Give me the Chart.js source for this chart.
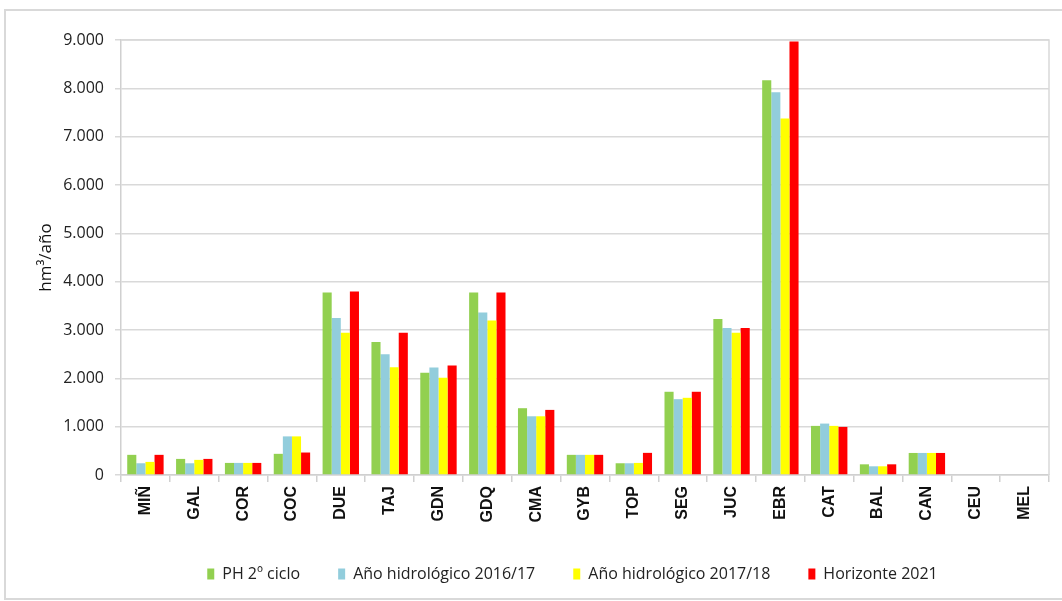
<!DOCTYPE html>
<html>
<head>
<meta charset="utf-8">
<script src="https://cdn.jsdelivr.net/npm/chart.js@4"></script>
<style>
    body{ margin: 0; background: #fff; }
    #wrap{ position: relative; width: 1062px; height: 601px; }
    #frame{ position: absolute; left: 4px; top: 9px; width: 1070px; height: 587px; border: 2px solid #d9d9d9; pointer-events: none; }
</style>
</head>
<body>
<div id="wrap">
    <canvas id="demand_graph" width="1062" height="601"></canvas>
    <div id="frame"></div>
</div>
<script>
const categories = ["MIÑ", "GAL", "COR", "COC", "DUE", "TAJ", "GDN", "GDQ", "CMA", "GYB", "TOP", "SEG", "JUC", "EBR", "CAT", "BAL", "CAN", "CEU", "MEL"]

const ph2Ciclo = [417, 333, 250, 438, 3778, 2750, 2118, 3778, 1382, 417, 243, 1722, 3229, 8169, 1016, 221, 456, 0, 0]
const anio2016 = [243, 243, 250, 799, 3250, 2500, 2222, 3361, 1215, 417, 243, 1569, 3042, 7920, 1064, 180, 456, 0, 0]
const anio2017 = [271, 313, 250, 799, 2944, 2229, 2014, 3194, 1215, 417, 250, 1597, 2944, 7374, 1016, 180, 456, 0, 0]
const horizonte2021 = [417, 333, 250, 465, 3799, 2944, 2264, 3778, 1347, 417, 458, 1722, 3042, 8970, 995, 221, 456, 0, 0]

const seriesNames = ["PH 2º ciclo", "Año hidrológico 2016/17", "Año hidrológico 2017/18", "Horizonte 2021"]
const seriesColors = ["#92D050", "#92CDDC", "#FFFF00", "#FF0000"]

const yTicks = [0, 1000, 2000, 3000, 4000, 5000, 6000, 7000, 8000, 9000]

function thousands(v){
    return String(v).replace(/\B(?=(\d{3})+(?!\d))/g, ".")
}

// grey box round the plot area (top and right edges like the Excel original)
const plotBorder = {
    id: "plotBorder",
    afterDraw(chart){
        const a = chart.chartArea
        const ctx = chart.ctx
        ctx.save()
        ctx.strokeStyle = "#d9d9d9"
        ctx.lineWidth = 1.5
        ctx.beginPath()
        ctx.moveTo(a.left, a.top)
        ctx.lineTo(a.right, a.top)
        ctx.lineTo(a.right, a.bottom)
        ctx.stroke()
        ctx.restore()
    }
}

// the legend in the original sits a bit right of centre
const legendShift = {
    id: "legendShift",
    afterLayout(chart){
        const lg = chart.legend
        if(lg){
            lg.left += 96
            lg.right += 0
        }
    }
}

const allSeries = [ph2Ciclo, anio2016, anio2017, horizonte2021]
const datasets = allSeries.map((values, i) => ({
    label: seriesNames[i],
    data: values,
    backgroundColor: seriesColors[i],
    borderWidth: 0,
    categoryPercentage: 0.745,
    barPercentage: 1.0
}))

const config = {
    type: "bar",
    data: {
        labels: categories,
        datasets: datasets
    },
    options: {
        responsive: false,
        animation: false,
        layout: {
            padding: { left: 0, right: 13, top: 40, bottom: 9 }
        },
        plugins: {
            tooltip: { enabled: false },
            legend: {
                position: "bottom",
                labels: {
                    boxWidth: 7,
                    boxHeight: 11,
                    padding: 38,
                    color: "#222",
                    font: { family: "'Open Sans', sans-serif", size: 16 }
                }
            }
        },
        scales: {
            x: {
                grid: {
                    display: true,
                    drawOnChartArea: false,
                    tickLength: 7,
                    color: "#d0d0d0",
                    lineWidth: 1.5
                },
                border: { color: "#d0d0d0", width: 1.5 },
                ticks: {
                    minRotation: 90,
                    maxRotation: 90,
                    padding: 4,
                    color: "#111",
                    font: { family: "'Liberation Sans', Arial, sans-serif", size: 16, weight: "bold" }
                },
                afterFit(scale){ scale.height = 53 }
            },
            y: {
                min: 0,
                max: 9000,
                afterBuildTicks(scale){
                    scale.ticks = yTicks.map(v => ({ value: v }))
                },
                grid: {
                    color: "#d9d9d9",
                    lineWidth: 1.5,
                    tickLength: 6
                },
                border: { color: "#d0d0d0", width: 1.5 },
                ticks: {
                    padding: 11,
                    color: "#222",
                    font: { family: "'Open Sans', sans-serif", size: 16 },
                    callback: v => thousands(v)
                },
                title: {
                    display: true,
                    text: "hm³/año",
                    color: "#111",
                    padding: { top: 36, bottom: 0 },
                    font: { family: "'Open Sans', sans-serif", size: 17 }
                },
                afterFit(scale){ scale.width = 121 }
            }
        }
    },
    plugins: [plotBorder, legendShift]
}

const chartId = document.getElementById("demand_graph")
const chart = new Chart(chartId, config)
</script>
</body>
</html>
